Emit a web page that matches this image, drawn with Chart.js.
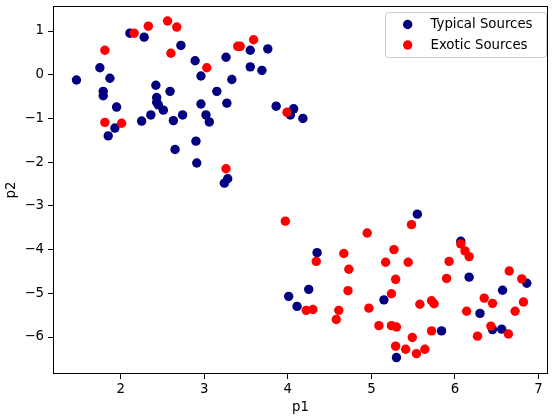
<!DOCTYPE html>
<html>
<head>
    <title>p1 vs p2</title>
    <script src="https://cdn.jsdelivr.net/npm/chart.js"></script>
    <style>
        body { margin: 0; background: #fff; }
    </style>
</head>
<body>
    <canvas id="myChart" width="554" height="420"></canvas>

    <script>
        // values
        const seriesNames = ['Typical Sources', 'Exotic Sources'];

        const typicalP1 = [1.47, 1.75, 1.87, 1.79, 1.79, 1.95, 1.93, 1.85, 2.11, 2.28,
            2.72, 2.89, 2.96, 2.42, 2.59, 3.15, 2.43, 2.43, 2.45, 2.51,
            2.36, 2.25, 2.63, 2.74, 2.96, 3.02, 3.06, 2.90, 2.65, 2.91,
            3.28, 3.24, 3.55, 3.76, 3.26, 3.55, 3.69, 3.33, 3.27, 3.86,
            4.07, 4.03, 4.18,
            4.35, 4.25, 4.01, 4.11, 5.15, 5.55, 5.30, 6.07, 6.17, 6.30,
            6.57, 6.86, 6.45, 6.56, 5.84];
        const typicalP2 = [-0.12, 0.16, -0.08, -0.38, -0.48, -0.74, -1.22, -1.40, 0.95, 0.86,
            0.67, 0.32, -0.03, -0.24, -0.38, -0.38, -0.52, -0.63, -0.69, -0.81,
            -0.92, -1.06, -1.05, -0.92, -0.67, -0.92, -1.08, -1.52, -1.71, -2.02,
            -2.38, -2.48, 0.56, 0.59, 0.40, 0.18, 0.10, -0.11, -0.65, -0.72,
            -0.78, -0.92, -1.00,
            -4.07, -4.91, -5.07, -5.30, -5.15, -3.19, -6.47, -3.81, -4.63, -5.46,
            -4.93, -4.77, -5.83, -5.82, -5.86];

        const exoticP1 = [1.81, 1.81, 2.01, 2.16, 2.33, 2.56, 2.67, 2.60, 3.03, 3.40,
            3.43, 3.59, 3.99, 3.26,
            3.97, 4.34, 4.95, 4.67, 4.73, 4.72, 4.22, 4.30, 4.61, 4.58,
            4.97, 5.24, 5.29, 5.17, 5.27, 5.44, 5.48, 5.09, 5.24, 5.30,
            5.49, 5.29, 5.41, 5.54, 5.58, 5.93, 5.90, 6.07, 6.12, 6.17,
            5.72, 5.75, 6.14, 6.35, 6.45, 6.65, 6.80, 6.82, 6.72, 6.43,
            6.64, 6.27, 5.72, 5.64];
        const exoticP2 = [0.56, -1.09, -1.11, 0.95, 1.11, 1.23, 1.09, 0.49, 0.16, 0.65,
            0.65, 0.80, -0.86, -2.15,
            -3.35, -4.27, -3.62, -4.09, -4.45, -4.94, -5.39, -5.37, -5.39, -5.60,
            -5.34, -5.01, -4.68, -4.29, -4.00, -4.29, -3.43, -5.74, -5.74, -5.77,
            -6.01, -6.21, -6.28, -6.38, -5.25, -4.27, -4.66, -3.87, -4.03, -4.16,
            -5.17, -5.24, -5.41, -5.11, -5.23, -4.49, -4.67, -5.20, -5.41, -5.75,
            -5.93, -5.98, -5.86, -6.28];

        const xTicks = [2, 3, 4, 5, 6, 7];
        const yTicks = [-6, -5, -4, -3, -2, -1, 0, 1];

        const toPoints = (xs, ys) => xs.map((x, i) => ({ x: x, y: ys[i] }));
        const minusSign = v => v < 0 ? '\u2212' + Math.abs(v) : String(v);

        Chart.defaults.font.family = "'DejaVu Sans', sans-serif";
        Chart.defaults.font.size = 13.3;
        Chart.defaults.color = '#000';

        // box around the axes and the legend in the upper right corner
        const frameAndLegend = {
            id: 'frameAndLegend',
            afterDraw(chart) {
                const ctx = chart.ctx;
                const a = chart.chartArea;
                ctx.save();
                ctx.strokeStyle = '#000';
                ctx.lineWidth = 1;
                ctx.strokeRect(Math.round(a.left) + 0.5, Math.round(a.top) + 0.5,
                    Math.round(a.right - a.left) - 1, Math.round(a.bottom - a.top) - 1);

                const bx = 385.5, by = 12.5, bw = 161, bh = 45;
                ctx.beginPath();
                ctx.roundRect(bx, by, bw, bh, 3);
                ctx.fillStyle = 'rgba(255,255,255,0.8)';
                ctx.fill();
                ctx.strokeStyle = '#cccccc';
                ctx.stroke();

                ctx.font = "13.3px 'DejaVu Sans', sans-serif";
                ctx.textBaseline = 'middle';
                ctx.textAlign = 'left';
                chart.data.datasets.forEach((ds, i) => {
                    const cy = 24.5 + i * 20.5;
                    ctx.beginPath();
                    ctx.arc(407.7, cy, 4.7, 0, Math.PI * 2);
                    ctx.fillStyle = ds.backgroundColor;
                    ctx.fill();
                    ctx.fillStyle = '#000';
                    ctx.fillText(ds.label, 430.5, cy + 0.5);
                });
                ctx.restore();
            }
        };

        const ctx = document.getElementById('myChart').getContext('2d');
        const myChart = new Chart(ctx, {
            type: 'scatter',
            data: {
                datasets: [{
                    label: seriesNames[0],
                    data: toPoints(typicalP1, typicalP2),
                    backgroundColor: '#000080',
                    pointRadius: 4.7,
                    pointBorderWidth: 0,
                    order: 2
                }, {
                    label: seriesNames[1],
                    data: toPoints(exoticP1, exoticP2),
                    backgroundColor: '#ff0000',
                    pointRadius: 4.7,
                    pointBorderWidth: 0,
                    order: 1
                }]
            },
            options: {
                responsive: false,
                animation: false,
                events: [],
                layout: { padding: { top: 6, right: 6, left: 0, bottom: 0 } },
                plugins: {
                    legend: { display: false },
                    tooltip: { enabled: false }
                },
                scales: {
                    x: {
                        type: 'linear',
                        min: 1.189,
                        max: 7.114,
                        afterFit: s => { s.height = 46; s.paddingLeft = 0; s.paddingRight = 0; },
                        afterBuildTicks: s => { s.ticks = xTicks.map(v => ({ value: v })); },
                        border: { display: false },
                        grid: { drawOnChartArea: false, drawTicks: true, tickLength: 5, color: '#000' },
                        ticks: { padding: 3, maxRotation: 0 },
                        title: { display: true, text: 'p1', padding: { top: 0, bottom: 4 } }
                    },
                    y: {
                        type: 'linear',
                        min: -6.846,
                        max: 1.572,
                        afterFit: s => { s.width = 53; s.paddingTop = 0; s.paddingBottom = 0; },
                        afterBuildTicks: s => { s.ticks = yTicks.map(v => ({ value: v })); },
                        border: { display: false },
                        grid: { drawOnChartArea: false, drawTicks: true, tickLength: 5, color: '#000' },
                        ticks: { padding: 4, callback: minusSign },
                        title: { display: true, text: 'p2', padding: { top: 4, bottom: 0 } }
                    }
                }
            },
            plugins: [frameAndLegend]
        });
    </script>
</body>
</html>
